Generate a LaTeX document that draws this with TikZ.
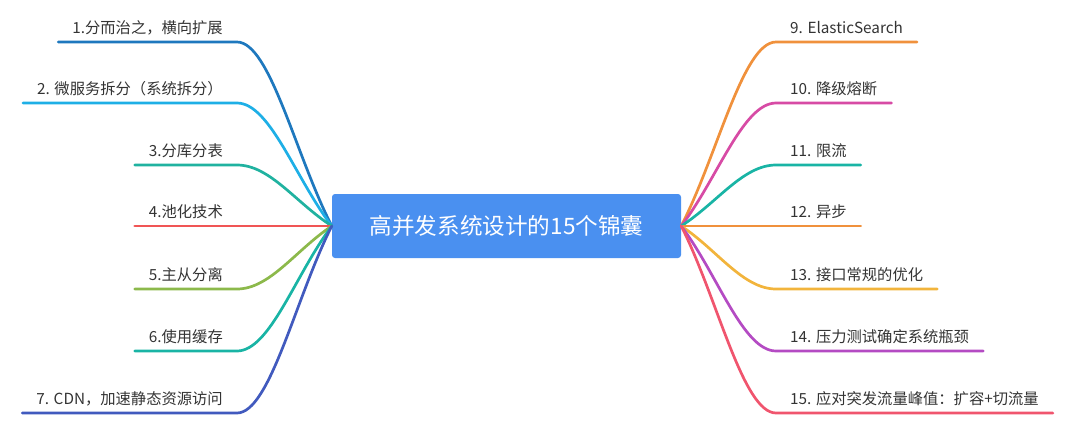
\documentclass[tikz,border=0pt]{standalone}
\usepackage{fontspec}
\setmainfont{Noto Sans CJK SC}
\usetikzlibrary{calc}

\definecolor{hubblue}{RGB}{74,144,240}
\definecolor{textgray}{RGB}{51,51,51}
\definecolor{bOne}{RGB}{30,120,190}
\definecolor{bTwo}{RGB}{30,175,230}
\definecolor{bThree}{RGB}{32,178,160}
\definecolor{bFour}{RGB}{240,85,85}
\definecolor{bFive}{RGB}{140,185,75}
\definecolor{bSix}{RGB}{25,180,165}
\definecolor{bSeven}{RGB}{65,90,190}
\definecolor{bNine}{RGB}{240,145,60}
\definecolor{bTen}{RGB}{215,75,165}
\definecolor{bEleven}{RGB}{25,180,165}
\definecolor{bTwelve}{RGB}{240,145,60}
\definecolor{bThirteen}{RGB}{242,180,60}
\definecolor{bFourteen}{RGB}{180,75,195}
\definecolor{bFifteen}{RGB}{240,85,110}

\begin{document}
\begin{tikzpicture}
  [x=1pt, y=-1pt,
   hub/.style={fill=hubblue, rounded corners=3pt, text=white, font=\fontsize{22.6}{26}\selectfont,
               minimum width=349pt, minimum height=64pt},
   leaf/.style={text=textgray, font=\fontsize{15.3}{18}\selectfont, inner xsep=14pt, inner ysep=5.5pt,
                text height=11pt, text depth=3pt},
   leftleaf/.style={leaf, anchor=south east},
   rightleaf/.style={leaf, anchor=south west},
   branch/.style={line width=2.7pt, line cap=round}]
  \useasboundingbox (0,0) rectangle (1080,437);
  \node[hub] (hub) at (506.5,226) {高并发系统设计的15个锦囊};
  % left side
  \node[leftleaf] (l1) at (237,42) {1.分而治之，横向扩展};
  \node[leftleaf] (l2) at (237,103) {2. 微服务拆分（系统拆分）};
  \node[leftleaf] (l3) at (237,165) {3.分库分表};
  \node[leftleaf] (l4) at (237,226) {4.池化技术};
  \node[leftleaf] (l5) at (237,289) {5.主从分离};
  \node[leftleaf] (l6) at (237,351) {6.使用缓存};
  \node[leftleaf] (l7) at (237,413) {7. CDN，加速静态资源访问};
  % right side
  \node[rightleaf] (r9) at (776,42) {9. ElasticSearch};
  \node[rightleaf] (r10) at (776,103) {10. 降级熔断};
  \node[rightleaf] (r11) at (776,165) {11. 限流};
  \node[rightleaf] (r12) at (776,226) {12. 异步};
  \node[rightleaf] (r13) at (776,289) {13. 接口常规的优化};
  \node[rightleaf] (r14) at (776,351) {14. 压力测试确定系统瓶颈};
  \node[rightleaf] (r15) at (776,413) {15. 应对突发流量峰值：扩容+切流量};

  \draw[branch, bOne] (l1.south west) -- (l1.south east)
    .. controls ($(l1.south east)+(33,0)$) and ($(l1.south east)!0.62!(hub.west)$) .. (hub.west);
  \draw[branch, bTwo] (l2.south west) -- (l2.south east)
    .. controls ($(l2.south east)+(33,0)$) and ($(l2.south east)!0.62!(hub.west)$) .. (hub.west);
  \draw[branch, bThree] (l3.south west) -- (l3.south east)
    .. controls ($(l3.south east)+(33,0)$) and ($(l3.south east)!0.62!(hub.west)$) .. (hub.west);
  \draw[branch, bFour] (l4.south west) -- (hub.west);
  \draw[branch, bFive] (l5.south west) -- (l5.south east)
    .. controls ($(l5.south east)+(33,0)$) and ($(l5.south east)!0.62!(hub.west)$) .. (hub.west);
  \draw[branch, bSix] (l6.south west) -- (l6.south east)
    .. controls ($(l6.south east)+(33,0)$) and ($(l6.south east)!0.62!(hub.west)$) .. (hub.west);
  \draw[branch, bSeven] (l7.south west) -- (l7.south east)
    .. controls ($(l7.south east)+(33,0)$) and ($(l7.south east)!0.62!(hub.west)$) .. (hub.west);

  \draw[branch, bNine] (r9.south east) -- (r9.south west)
    .. controls ($(r9.south west)+(-33,0)$) and ($(r9.south west)!0.62!(hub.east)$) .. (hub.east);
  \draw[branch, bTen] (r10.south east) -- (r10.south west)
    .. controls ($(r10.south west)+(-33,0)$) and ($(r10.south west)!0.62!(hub.east)$) .. (hub.east);
  \draw[branch, bEleven] (r11.south east) -- (r11.south west)
    .. controls ($(r11.south west)+(-33,0)$) and ($(r11.south west)!0.62!(hub.east)$) .. (hub.east);
  \draw[branch, bTwelve] (r12.south east) -- (hub.east);
  \draw[branch, bThirteen] (r13.south east) -- (r13.south west)
    .. controls ($(r13.south west)+(-33,0)$) and ($(r13.south west)!0.62!(hub.east)$) .. (hub.east);
  \draw[branch, bFourteen] (r14.south east) -- (r14.south west)
    .. controls ($(r14.south west)+(-33,0)$) and ($(r14.south west)!0.62!(hub.east)$) .. (hub.east);
  \draw[branch, bFifteen] (r15.south east) -- (r15.south west)
    .. controls ($(r15.south west)+(-33,0)$) and ($(r15.south west)!0.62!(hub.east)$) .. (hub.east);
\end{tikzpicture}
\end{document}
